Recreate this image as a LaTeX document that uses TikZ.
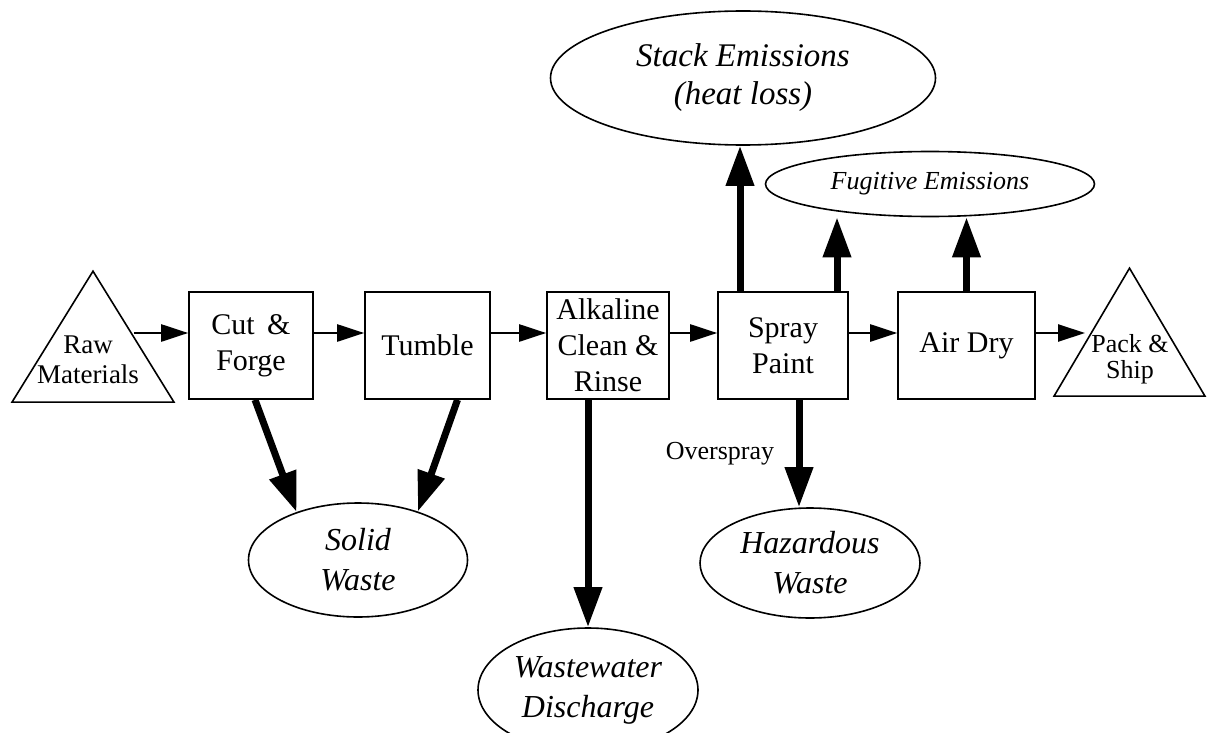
\documentclass[tikz,border=0pt]{standalone}
\usepackage{fontspec}
\setmainfont{Liberation Serif}
\usetikzlibrary{arrows.meta,positioning,shapes.geometric}

\begin{document}
\begin{tikzpicture}[x=1pt,y=-1pt,
  proc/.style={draw=black,line width=1.6pt,align=center,inner sep=0pt,minimum height=107pt,font=\fontsize{30}{36}\selectfont},
  src/.style={draw=black,line width=1.6pt,isosceles triangle,isosceles triangle stretches,shape border rotate=90,inner sep=0pt,anchor=south},
  srclbl/.style={align=center,inner sep=0pt,font=\fontsize{27}{30}\selectfont},
  emis/.style={draw=black,line width=1.6pt,ellipse,align=center,inner sep=0pt,font=\itshape\fontsize{32}{40}\selectfont},
  ar/.style={-{Triangle[length=27pt,width=17pt]},line width=2.4pt},
  big/.style={-{Triangle[length=40pt,width=27pt]},line width=7pt}]
\useasboundingbox (0,0) rectangle (1207,733);
% main line
\node[src,minimum width=162pt,minimum height=131pt] (raw) at (93,403) {};
\node[srclbl] (rawlbl) at (88,360) {Raw\\Materials};
\node[proc,minimum width=124pt] (cut) at (251,345.5) {Cut \,\&\\Forge};
\node[proc,minimum width=125pt] (tumble) at (427.5,345.5) {Tumble};
\node[proc,minimum width=122pt] (alk) at (608,345.5) {Alkaline\\Clean \&\\Rinse};
\node[proc,minimum width=130pt] (spray) at (783,345.5) {Spray\\Paint};
\node[proc,minimum width=137pt] (airdry) at (966.5,345.5) {Air Dry};
\node[src,minimum width=151pt,minimum height=128pt] (pack) at (1129.5,397) {};
\node[srclbl,font=\fontsize{26}{26}\selectfont] (packlbl) at (1130,359) {Pack \&\\Ship};
% releases
\node[emis,minimum width=385pt,minimum height=134pt,font=\itshape\fontsize{33}{38}\selectfont] (stack) at (743,78) {Stack Emissions\\(heat loss)};
\node[emis,minimum width=329pt,minimum height=65pt,font=\itshape\fontsize{26}{30}\selectfont] (fug) at (930,184) {Fugitive Emissions};
\node[emis,minimum width=219pt,minimum height=114pt] (solid) at (358,560) {Solid\\Waste};
\node[emis,minimum width=220pt,minimum height=124pt] (waste) at (588,690) {Wastewater\\Discharge};
\node[emis,minimum width=220pt,minimum height=110pt] (haz) at (810,563) {Hazardous\\Waste};
% flow
\draw[ar] ([yshift=12.5pt]cut.west -| raw.right side) -- ([yshift=12.5pt]cut.west);
\draw[ar] ([yshift=12.5pt]cut.east) -- ([yshift=12.5pt]tumble.west);
\draw[ar] ([yshift=12.5pt]tumble.east) -- ([yshift=12.5pt]alk.west);
\draw[ar] ([yshift=12.5pt]alk.east) -- ([yshift=12.5pt]spray.west);
\draw[ar] ([yshift=12.5pt]spray.east) -- ([yshift=12.5pt]airdry.west);
\draw[ar] ([yshift=12.5pt]airdry.east) -- ([yshift=12.5pt,xshift=-6pt]airdry.east -| pack.left side);
% waste streams
\draw[big] ([xshift=4pt]cut.south) -- (solid.142);
\draw[big] ([xshift=30pt]tumble.south) -- (solid.39);
\draw[big] ([xshift=-20pt]alk.south) -- (waste.north);
\draw[big] ([xshift=16pt]spray.south) -- node[left=18pt,font=\fontsize{26}{30}\selectfont] (ovs) {Overspray} ([xshift=16pt]spray.south |- haz.north);
\draw[big] ([xshift=-43pt]spray.north) -- ([xshift=-43pt]spray.north |- stack.south);
\draw[big] ([xshift=54pt]spray.north) -- ([xshift=54pt]spray.north |- fug.south);
\draw[big] (airdry.north) -- (airdry.north |- fug.south);
\end{tikzpicture}
\end{document}
